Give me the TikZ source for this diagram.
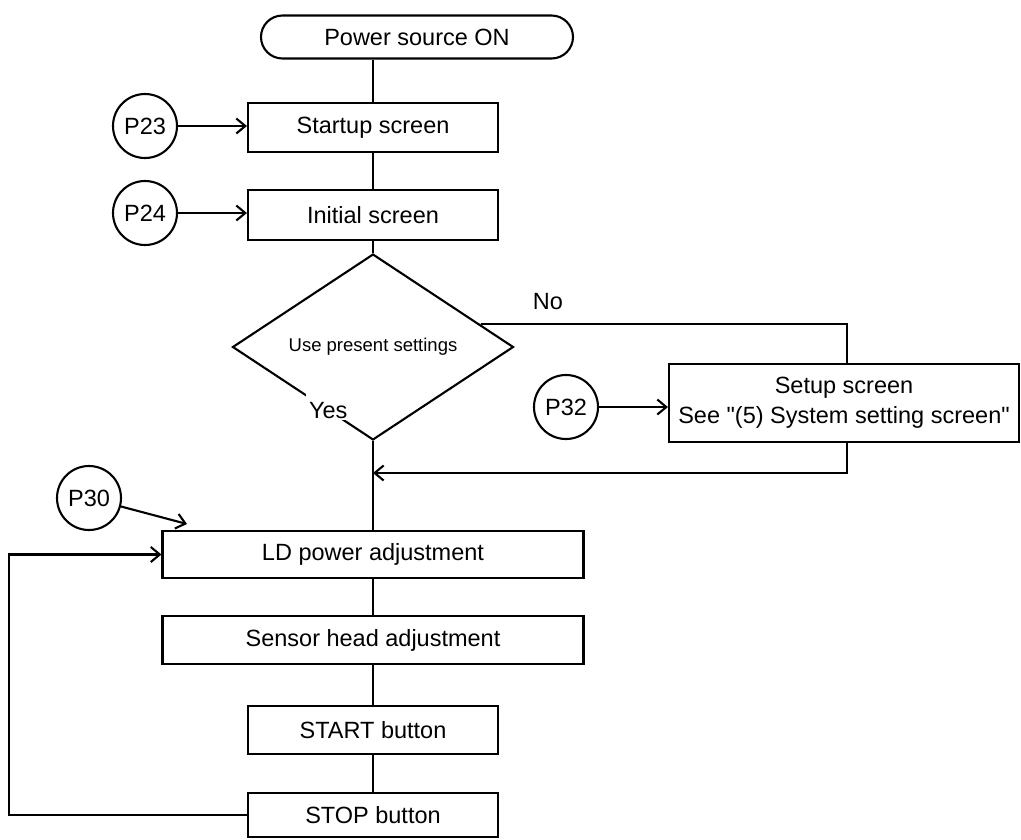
\documentclass[tikz,border=0pt]{standalone}
\usepackage{fontspec}
\setmainfont{Liberation Sans}
% a family without TeX ligature mapping keeps straight double quotes
\newfontfamily\chartfont{Liberation Sans}
\usetikzlibrary{shapes.geometric,shapes.misc,arrows.meta,calc}
\begin{document}
\begin{tikzpicture}[x=1pt,y=-1pt,line width=2.1pt,
  every node/.style={font=\chartfont\fontsize{23.5}{30}\selectfont},
  box/.style={draw,fill=white,rectangle,inner sep=0pt,align=center},
  term/.style={draw,fill=white,rounded rectangle,inner sep=0pt},
  decision/.style={draw,fill=white,diamond,inner sep=0pt,font=\chartfont\fontsize{18.5}{22}\selectfont},
  ref/.style={draw,circle,minimum size=64pt,inner sep=0pt},
  link/.style={-{Straight Barb[length=9pt,width=15pt]}}]
\useasboundingbox (0,0) rectangle (1021,839);

% main column
\node[term,minimum width=312pt,minimum height=43pt] (on) at (417,37) {Power source ON};
\node[box,minimum width=250pt,minimum height=49pt] (startup) at (373,127.5) {Startup screen};
\node[box,minimum width=250pt,minimum height=50pt] (init) at (373,215) {Initial screen};
\node[decision,minimum width=281pt,minimum height=150pt] (ask) at (373,347) {\raisebox{-3pt}{Use present settings}};
\node[box,minimum width=421pt,minimum height=47pt] (ld) at (373,554.5) {LD power adjustment};
\node[box,minimum width=421pt,minimum height=48pt] (sensor) at (373,640) {Sensor head adjustment};
\node[box,minimum width=250pt,minimum height=48pt] (startbtn) at (373,730) {START button};
\node[box,minimum width=250pt,minimum height=44pt] (stopbtn) at (373,815) {STOP button};

% "No" branch, drawn beneath the setup box
\coordinate (nofrom) at ($(ask.north)!0.76!(ask.east)$);
\coordinate (back) at (847,473);
\draw[link] (nofrom) -- (nofrom -| back) -- (back) -- (back -| ask.south);
\node (no) at (548,302) {No};
\node[box,minimum width=350pt,minimum height=78pt] (setup) at (844,403)
  {Setup screen\\See "(5) System setting screen"};

% "Yes" label masks part of the diamond edge
\node[fill=white,anchor=base west,inner xsep=3pt,inner ysep=0pt,
  text width=55pt,text height=35pt,text depth=2pt] (yes) at (305,418) {Yes};

% page references
\node[ref] (p23) at (145,126) {P23};
\node[ref] (p24) at (145,213) {P24};
\node[ref] (p32) at (566,407) {P32};
\node[ref] (p30) at (89,498) {P30};
\coordinate (p30tip) at (187,524);

% flow connectors
\draw (on.south -| startup.north) -- (startup.north);
\draw (startup.south) -- (init.north);
\draw (init.south) -- (ask.north);
\draw (ask.south) -- (ld.north);
\draw (ld.south) -- (sensor.north);
\draw (sensor.south) -- (startbtn.north);
\draw (startbtn.south) -- (stopbtn.north);

\draw[link] (p23.east) -- (p23.east -| startup.west);
\draw[link] (p24.east) -- (p24.east -| init.west);
\draw[link] (p32.east) -- (p32.east -| setup.west);
\draw[link] (p30) -- (p30tip);

% loop back from STOP to LD power adjustment
\coordinate (lp) at (9,0);
\draw[link] (stopbtn.west) -- (lp |- stopbtn.west) -- (lp |- ld.west) -- (ld.west);
\end{tikzpicture}
\end{document}
